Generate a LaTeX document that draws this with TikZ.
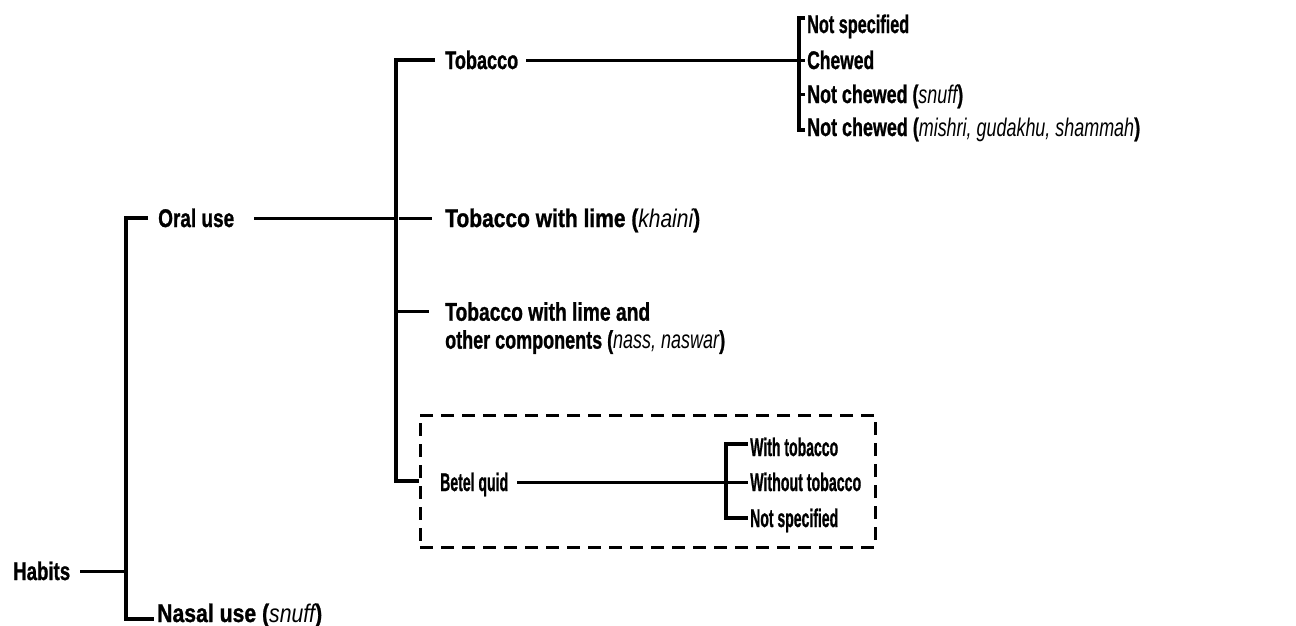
\documentclass[tikz,border=0pt]{standalone}
\usepackage{fontspec}
\usepackage{graphicx}
\setmainfont{Liberation Sans}[BoldFeatures={FakeBold=1.2}]
\newsavebox\fwbox
\newcommand\fw[2]{\sbox\fwbox{#2}\pgfmathsetmacro\fwfac{#1/\the\wd\fwbox}\scalebox{\fwfac}[1]{\usebox\fwbox}}
\newcommand\ital[1]{{\mdseries\itshape #1}}
\tikzset{
  lbl/.style={inner sep=0pt, anchor=west, text height=18pt, text depth=0pt,
              font=\fontsize{25.5}{28}\selectfont\bfseries},
  ln/.style={line width=3pt},
  br/.style={line width=3.2pt},
  dbox/.style={draw, dash pattern=on 13pt off 8pt, line width=3pt, inner sep=0pt,
               minimum width=455pt, minimum height=132pt}
}
\begin{document}
\begin{tikzpicture}[x=1pt,y=-1pt]
\useasboundingbox (0,0) rectangle (1296,625);
% nodes
\node[lbl] (habits) at (13,571) {\fw{57}{Habits}};
\node[lbl] (oral) at (158,218) {\fw{76}{Oral use}};
\node[lbl] (nasal) at (157,613) {\fw{165}{Nasal use (\ital{snuff})}};
\node[lbl] (tob) at (445,60) {\fw{73}{Tobacco}};
\node[lbl] (khaini) at (445,218) {\fw{255}{Tobacco with lime (\ital{khaini})}};
\node[inner sep=0pt, anchor=north west, align=left, font=\fontsize{25.5}{28}\selectfont\bfseries]
  (nass) at (445,302) {\fw{205}{Tobacco with lime and}\\\fw{280}{other components (\ital{nass, naswar})}};
\node[dbox] (box) at (647.5,481) {};
\node[lbl] (betel) at (440,482) {\fw{68}{Betel quid}};
\node[lbl] (ns1) at (807,24) {\fw{102}{Not specified}};
\node[lbl] (ch) at (807,60) {\fw{67}{Chewed}};
\node[lbl] (nc1) at (807,94) {\fw{156}{Not chewed (\ital{snuff})}};
\node[lbl] (nc2) at (807,127) {\fw{333}{Not chewed (\ital{mishri, gudakhu, shammah})}};
\node[lbl] (wt) at (750,447) {\fw{88}{With tobacco}};
\node[lbl] (wo) at (750,482) {\fw{111}{Without tobacco}};
\node[lbl] (nsp) at (750,518) {\fw{88}{Not specified}};
% junctions
\coordinate (j1) at (126,571);
\coordinate (j2) at (396,218);
\coordinate (k3) at (799,60);
\coordinate (k4) at (726,482);
% level 1
\draw[ln] ([xshift=10pt]habits.east) -- (j1);
\draw[br] ([xshift=-10pt]oral.west) -| (j1) |- ([xshift=-3pt,yshift=-6pt]nasal.west);
% level 2
\draw[ln] ([xshift=20pt]oral.east) -- (j2);
\draw[br] ([xshift=-10pt]tob.west) -| (j2) |- (box.west);
\draw[ln] ([xshift=3pt]j2) -- ([xshift=-13pt]khaini.west);
\draw[ln] ([xshift=-48pt,yshift=-9pt]nass.north west) -- ([xshift=-16pt,yshift=-9pt]nass.north west);
% tobacco branch
\draw[ln] ([xshift=8pt]tob.east) -- (k3);
\draw[br] ([xshift=-2pt,yshift=6pt]ns1.west) -| (k3) |- ([xshift=-2pt,yshift=-3pt]nc2.west);
\draw[ln] (k3) -- ([xshift=-2pt]ch.west);
\draw[ln] (k3 |- nc1.west) -- ([xshift=-2pt]nc1.west);
% betel branch
\draw[ln] ([xshift=9pt]betel.east) -- (k4);
\draw[br] ([xshift=-2pt,yshift=3pt]wt.west) -| (k4) |- ([xshift=-2pt]nsp.west);
\draw[ln] (k4) -- ([xshift=-2pt]wo.west);
\end{tikzpicture}
\end{document}
